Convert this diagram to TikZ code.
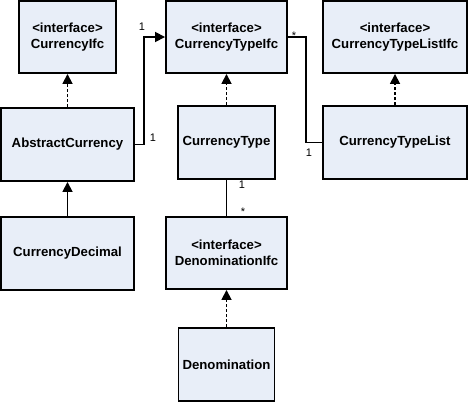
\documentclass[tikz,border=0pt]{standalone}
\usepackage{fontspec}
\setmainfont{Liberation Sans}
\usetikzlibrary{arrows.meta}
\definecolor{boxfill}{RGB}{232,238,248}
\tikzset{
  cls/.style={draw=black, line width=1.9pt, fill=boxfill, inner sep=0pt,
    font=\fontsize{13.2}{16}\selectfont\bfseries, align=center},
  conn/.style={draw=black, line width=1.7pt},
  realize/.style={conn, dash pattern=on 3pt off 2pt, -{Triangle[length=10pt,width=10pt]}},
  inherit/.style={conn, -{Triangle[length=10pt,width=10pt]}},
  assocarrow/.style={conn, -{Triangle[length=10pt,width=10pt]}},
  mult/.style={font=\fontsize{11}{12}\selectfont, inner sep=0pt}
}
\begin{document}
\begin{tikzpicture}[x=1pt,y=-1pt]
\useasboundingbox (0,0) rectangle (468,402);
\node[cls, minimum width=97pt, minimum height=72pt] (cifc) at (67.5,37) {<interface>\\CurrencyIfc};
\node[cls, minimum width=133pt, minimum height=73pt] (acur) at (67.5,144.5) {AbstractCurrency};
\node[cls, minimum width=133pt, minimum height=73pt] (cdec) at (67.5,253.5) {CurrencyDecimal};
\node[cls, minimum width=121pt, minimum height=72pt] (ctifc) at (226.5,37) {<interface>\\CurrencyTypeIfc};
\node[cls, minimum width=97pt, minimum height=73pt] (ctype) at (226.5,142.5) {CurrencyType};
\node[cls, minimum width=144pt, minimum height=72pt] (ctlifc) at (395,37) {<interface>\\CurrencyTypeListIfc};
\node[cls, minimum width=144pt, minimum height=73pt] (ctlist) at (395,142.5) {CurrencyTypeList};
\node[cls, minimum width=121pt, minimum height=72pt] (difc) at (226.5,253) {<interface>\\DenominationIfc};
\node[cls, minimum width=96pt, minimum height=73pt] (den) at (226.5,364.5) {Denomination};

\draw[realize] (acur.north) -- (cifc.south);
\draw[inherit] (cdec.north) -- (acur.south);
\draw[realize] (ctype.north) -- (ctifc.south);
\draw[realize] (ctlist.north) -- (ctlifc.south);
\draw[realize] (den.north) -- (difc.south);
\draw[assocarrow] (acur.east) -- ++(9,0) |- (ctifc.west);
\draw[conn] (ctifc.east) -- ++(18,0) |- (ctlist.west);
\draw[conn] (ctype.south) -- (difc.north);

\node[mult] (m1) at (142,27) {1};
\node[mult] (m2) at (153,138) {1};
\node[mult] (m3) at (294,36) {*};
\node[mult] (m4) at (309,153) {1};
\node[mult] (m5) at (242,185) {1};
\node[mult] (m6) at (243,212) {*};
\end{tikzpicture}
\end{document}
